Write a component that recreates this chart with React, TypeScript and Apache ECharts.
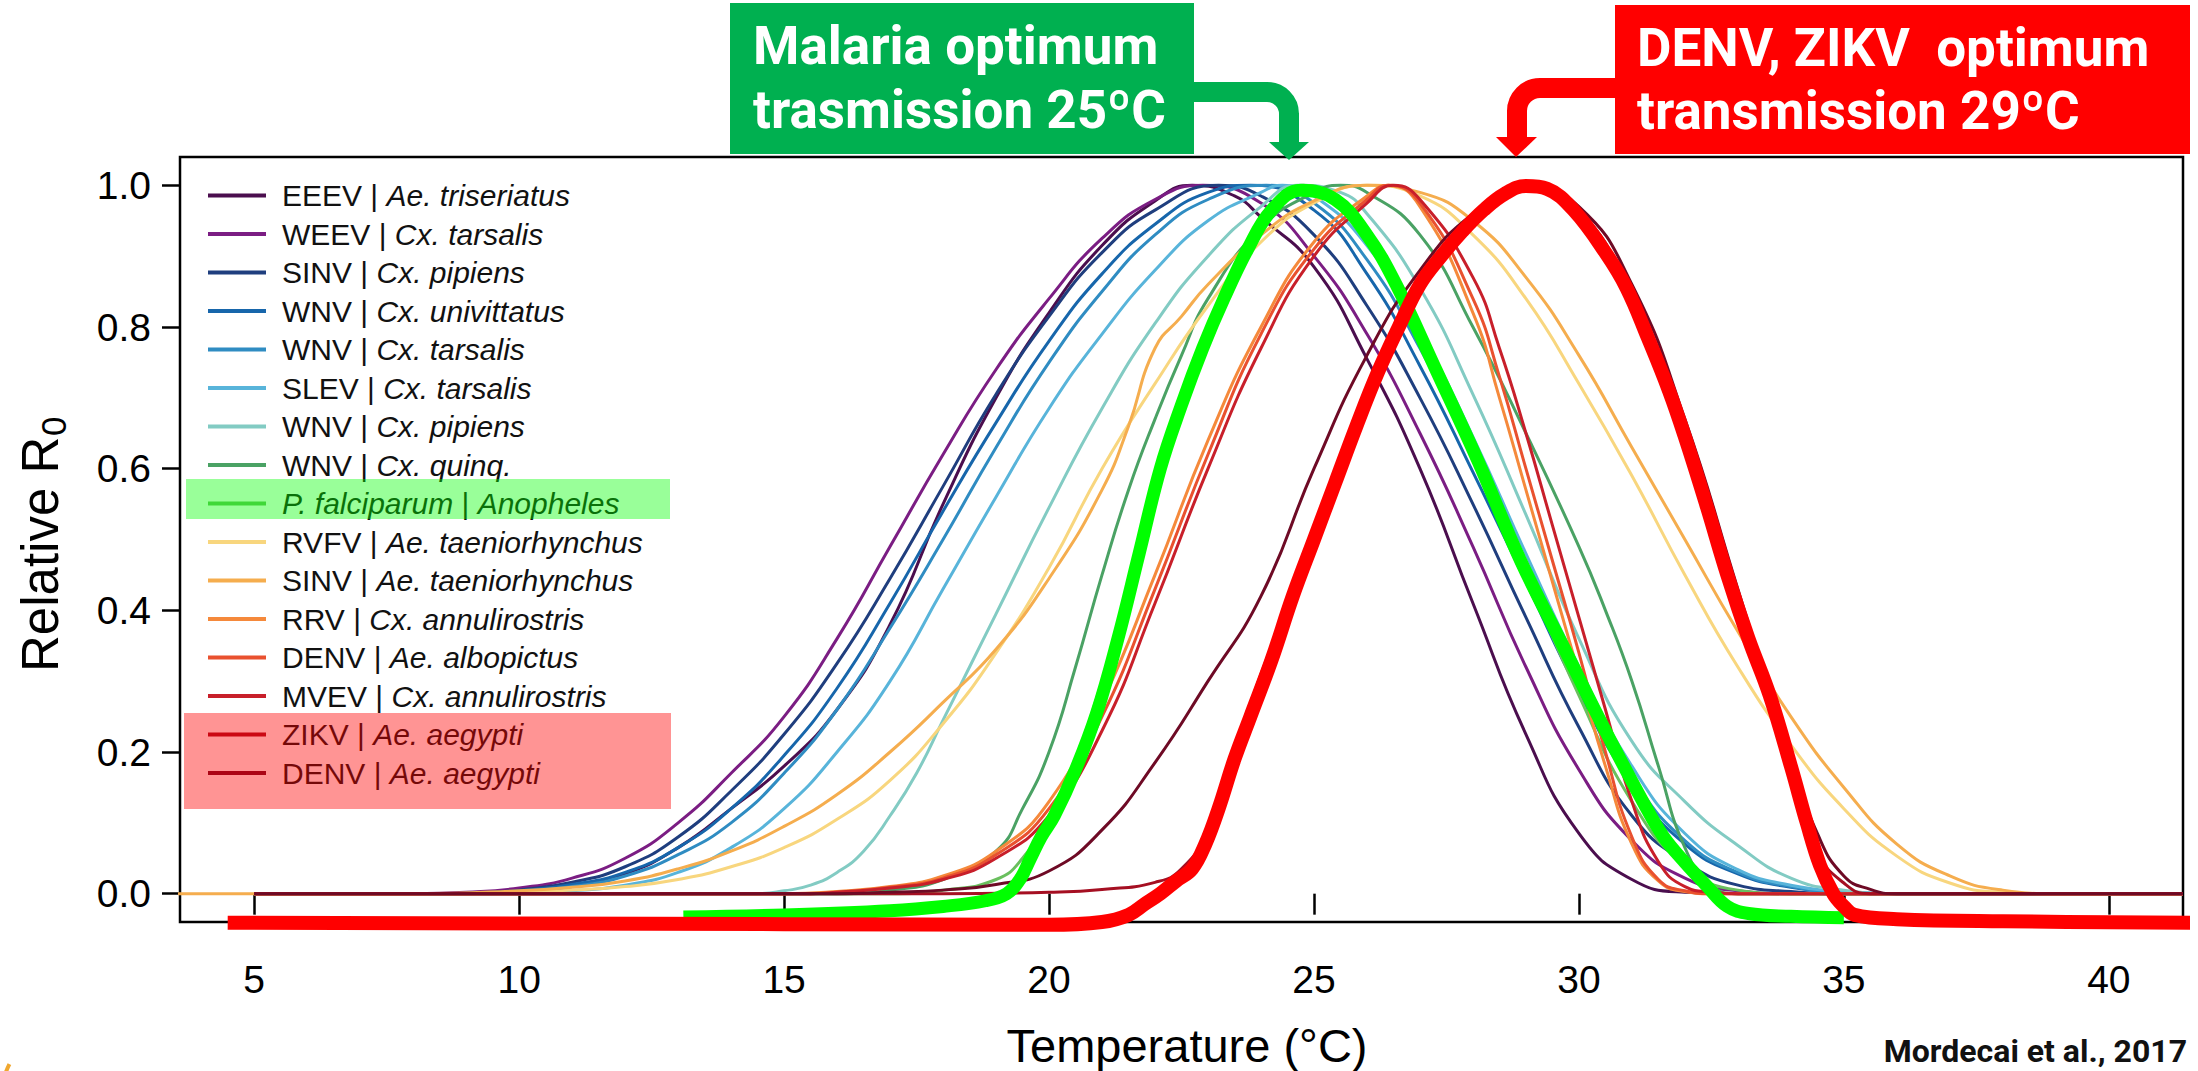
import React, { useEffect, useRef } from 'react';
import * as echarts from 'echarts';

// ---------- axes ----------
const X_RANGE = [3.6, 41.4];
const Y_RANGE = [-0.04, 1.04];
const X_TICKS = [5, 10, 15, 20, 25, 30, 35, 40];
const Y_TICKS = [0, 0.2, 0.4, 0.6, 0.8, 1.0];

// ---------- legend / series identity ----------
const VIRUS = ['EEEV', 'WEEV', 'SINV', 'WNV', 'WNV', 'SLEV', 'WNV', 'WNV', 'P. falciparum', 'RVFV', 'SINV', 'RRV', 'DENV', 'MVEV', 'ZIKV', 'DENV'];
const VECTOR = ['Ae. triseriatus', 'Cx. tarsalis', 'Cx. pipiens', 'Cx. univittatus', 'Cx. tarsalis', 'Cx. tarsalis', 'Cx. pipiens', 'Cx. quinq.', 'Anopheles', 'Ae. taeniorhynchus', 'Ae. taeniorhynchus', 'Cx. annulirostris', 'Ae. albopictus', 'Cx. annulirostris', 'Ae. aegypti', 'Ae. aegypti'];
const ITALIC_VIRUS = [false, false, false, false, false, false, false, false, true, false, false, false, false, false, false, false];
const COLORS = ['#4b0e4e', '#7b1d83', '#1f3e7e', '#1766ab', '#2f8cc2', '#58b4da', '#82cbc3', '#4aa264', '#6abf5e', '#f8d67e', '#f5ad4e', '#f5893b', '#e9512f', '#c81f2a', '#a50f22', '#6e0a25'];

// ---------- relative R0 curves: [temperature, relative R0] ----------
const EEEV_TRISERIATUS = [[5, 0], [9, 0], [10, 0.003], [11, 0.01], [12, 0.028], [13, 0.065], [14, 0.12], [15, 0.18], [16, 0.26], [17, 0.38], [18, 0.55], [19, 0.7], [20, 0.82], [21, 0.915], [22, 0.978], [22.7, 1], [23.5, 0.985], [24, 0.955], [25, 0.885], [26, 0.755], [27, 0.6], [28, 0.41], [29, 0.225], [30, 0.085], [31, 0.02], [32, 0.002], [33, 0], [41.4, 0]];
const WEEV_TARSALIS = [[5, 0], [8, 0], [9, 0.002], [10, 0.008], [11, 0.022], [12, 0.05], [13, 0.1], [14, 0.17], [15, 0.25], [16, 0.36], [17, 0.49], [18, 0.62], [19, 0.74], [20, 0.84], [21, 0.925], [22, 0.98], [22.9, 1], [24, 0.975], [25, 0.9], [26, 0.79], [27, 0.65], [28, 0.49], [29, 0.32], [30, 0.175], [31, 0.075], [32, 0.022], [33, 0.004], [34, 0], [41.4, 0]];
const SINV_PIPIENS = [[5, 0], [8.5, 0], [9.5, 0.002], [10, 0.005], [11, 0.016], [12, 0.038], [13, 0.08], [14, 0.145], [15, 0.225], [16, 0.325], [17, 0.445], [18, 0.575], [19, 0.705], [20, 0.815], [21, 0.905], [22, 0.965], [23.2, 1], [24, 0.985], [25, 0.93], [26, 0.83], [27, 0.7], [28, 0.55], [29, 0.39], [30, 0.235], [31, 0.11], [32, 0.045], [33, 0.012], [34, 0.003], [35, 0], [41.4, 0]];
const WNV_UNIVITTATUS = [[5, 0], [9, 0], [10, 0.004], [11, 0.013], [12, 0.03], [13, 0.065], [14, 0.12], [15, 0.195], [16, 0.29], [17, 0.41], [18, 0.54], [19, 0.665], [20, 0.78], [21, 0.875], [22, 0.945], [23, 0.99], [23.8, 1], [25, 0.965], [26, 0.875], [27, 0.745], [28, 0.595], [29, 0.44], [30, 0.285], [31, 0.155], [32, 0.07], [33, 0.028], [34, 0.009], [35, 0.002], [36, 0], [41.4, 0]];
const WNV_TARSALIS = [[5, 0], [9.5, 0], [10, 0.003], [11, 0.01], [12, 0.025], [13, 0.055], [14, 0.1], [15, 0.17], [16, 0.26], [17, 0.375], [18, 0.5], [19, 0.63], [20, 0.75], [21, 0.85], [22, 0.93], [23, 0.98], [24.1, 1], [25, 0.975], [26, 0.895], [27, 0.77], [28, 0.62], [29, 0.46], [30, 0.3], [31, 0.165], [32, 0.075], [33, 0.03], [34, 0.01], [35, 0.002], [36, 0], [41.4, 0]];
const SLEV_TARSALIS = [[5, 0], [10, 0], [11, 0.004], [12, 0.012], [13, 0.03], [14, 0.065], [15, 0.12], [16, 0.2], [17, 0.3], [18, 0.43], [19, 0.56], [20, 0.685], [21, 0.79], [22, 0.88], [23, 0.95], [24, 0.99], [24.4, 1], [25, 0.985], [26, 0.915], [27, 0.795], [28, 0.645], [29, 0.48], [30, 0.32], [31, 0.18], [32, 0.085], [33, 0.034], [34, 0.012], [35, 0.003], [36, 0], [41.4, 0]];
const WNV_PIPIENS = [[5, 0], [14.5, 0], [15, 0.004], [15.5, 0.012], [16, 0.03], [16.5, 0.06], [17, 0.11], [17.5, 0.17], [18, 0.245], [18.5, 0.32], [19, 0.395], [20, 0.545], [21, 0.685], [22, 0.805], [23, 0.9], [24, 0.97], [24.7, 1], [25.5, 0.99], [26, 0.96], [27, 0.855], [28, 0.705], [29, 0.535], [30, 0.36], [31, 0.215], [32, 0.13], [33, 0.068], [34, 0.022], [35, 0.005], [36, 0], [41.4, 0]];
const WNV_QUINQ = [[5, 0], [16, 0], [17, 0.005], [18, 0.02], [19, 0.06], [19.5, 0.12], [20, 0.2], [20.5, 0.32], [21, 0.45], [21.5, 0.57], [22, 0.67], [22.5, 0.76], [23, 0.84], [24, 0.94], [25, 0.99], [25.5, 1], [26, 0.99], [27, 0.93], [28, 0.8], [29, 0.65], [30, 0.49], [30.5, 0.4], [31, 0.3], [31.5, 0.18], [32, 0.065], [32.5, 0.012], [33, 0], [41.4, 0]];
const PFALC_ANOPHELES = [[5, 0], [17, 0], [18, 0.005], [19, 0.02], [19.5, 0.05], [20, 0.11], [20.5, 0.19], [21, 0.3], [21.5, 0.42], [22, 0.56], [22.5, 0.68], [23, 0.79], [23.5, 0.88], [24, 0.945], [24.8, 1], [25.5, 0.975], [26, 0.93], [27, 0.78], [28, 0.62], [29, 0.45], [30, 0.28], [31, 0.13], [32, 0.04], [33, 0.005], [34, 0], [41.4, 0]];
const RVFV_TAENIORHYNCHUS = [[5, 0], [9, 0], [10, 0.002], [11, 0.005], [12, 0.01], [13, 0.02], [14, 0.038], [15, 0.065], [16, 0.105], [17, 0.16], [18, 0.24], [19, 0.34], [20, 0.46], [21, 0.6], [22, 0.72], [23, 0.83], [24, 0.92], [25, 0.975], [26, 1], [27, 0.985], [28, 0.93], [29, 0.84], [30, 0.72], [31, 0.59], [32, 0.45], [33, 0.32], [34, 0.21], [35, 0.12], [36, 0.053], [37, 0.015], [38, 0.002], [39, 0], [41.4, 0]];
const SINV_TAENIORHYNCHUS = [[3, 0], [8, 0], [10, 0.004], [11, 0.009], [12, 0.018], [13, 0.035], [14, 0.06], [15, 0.095], [16, 0.14], [17, 0.2], [18, 0.27], [19, 0.345], [20, 0.445], [21, 0.57], [21.5, 0.66], [22, 0.77], [22.5, 0.815], [23, 0.86], [24, 0.93], [25, 0.978], [26, 1], [27, 0.99], [28, 0.95], [29, 0.87], [30, 0.76], [31, 0.63], [32, 0.5], [33, 0.37], [34, 0.25], [35, 0.15], [36, 0.07], [37, 0.025], [38, 0.005], [39, 0], [41.4, 0]];
const RRV_ANNULIROSTRIS = [[5, 0], [15, 0], [16, 0.003], [17, 0.01], [18, 0.025], [19, 0.06], [20, 0.13], [21, 0.27], [22, 0.45], [23, 0.64], [24, 0.8], [25, 0.92], [26, 0.985], [26.4, 1], [27, 0.97], [28, 0.82], [28.5, 0.7], [29, 0.57], [29.5, 0.44], [30, 0.31], [30.5, 0.18], [31, 0.07], [31.5, 0.018], [32, 0.003], [32.5, 0], [41.4, 0]];
const DENV_ALBOPICTUS = [[5, 0], [15.5, 0], [16, 0.002], [17, 0.009], [18, 0.022], [19, 0.055], [20, 0.12], [21, 0.25], [22, 0.43], [23, 0.62], [24, 0.79], [25, 0.91], [26, 0.98], [26.4, 1], [27, 0.975], [28, 0.84], [28.5, 0.73], [29, 0.6], [29.5, 0.47], [30, 0.34], [30.5, 0.2], [31, 0.08], [31.5, 0.02], [32, 0.004], [32.5, 0], [41.4, 0]];
const MVEV_ANNULIROSTRIS = [[5, 0], [15.5, 0], [16, 0.002], [17, 0.008], [18, 0.02], [19, 0.05], [20, 0.11], [21, 0.23], [22, 0.41], [23, 0.6], [24, 0.77], [25, 0.9], [26, 0.975], [26.5, 1], [27, 0.98], [28, 0.87], [28.5, 0.77], [29, 0.65], [29.5, 0.52], [30, 0.39], [30.5, 0.26], [31, 0.13], [31.5, 0.045], [32, 0.01], [32.5, 0.002], [33, 0], [41.4, 0]];
const ZIKV_AEGYPTI = [[5, 0], [18, 0], [20, 0.002], [21, 0.006], [22, 0.016], [22.5, 0.035], [23, 0.09], [23.5, 0.2], [24, 0.31], [25, 0.5], [26, 0.69], [27, 0.85], [28, 0.955], [29, 1], [30, 0.965], [31, 0.84], [32, 0.645], [33, 0.41], [34, 0.175], [34.5, 0.06], [35, 0.015], [35.5, 0], [41.4, 0]];
const DENV_AEGYPTI = [[5, 0], [16, 0], [17, 0.002], [18, 0.005], [19, 0.013], [20, 0.032], [21, 0.09], [22, 0.185], [23, 0.3], [24, 0.42], [25, 0.6], [26, 0.76], [27, 0.88], [28, 0.96], [29, 1], [30, 0.97], [31, 0.86], [32, 0.67], [33, 0.43], [34, 0.19], [34.5, 0.085], [35, 0.025], [35.5, 0.006], [36, 0], [41.4, 0]];

const CURVES = [EEEV_TRISERIATUS, WEEV_TARSALIS, SINV_PIPIENS, WNV_UNIVITTATUS, WNV_TARSALIS, SLEV_TARSALIS, WNV_PIPIENS, WNV_QUINQ, PFALC_ANOPHELES, RVFV_TAENIORHYNCHUS, SINV_TAENIORHYNCHUS, RRV_ANNULIROSTRIS, DENV_ALBOPICTUS, MVEV_ANNULIROSTRIS, ZIKV_AEGYPTI, DENV_AEGYPTI];

// ---------- hand-drawn highlight strokes (thick) ----------
const MALARIA_STROKE = [[13.1, -0.033], [15, -0.03], [17, -0.024], [18, -0.018], [18.8, -0.01], [19.2, 0], [19.45, 0.02], [19.65, 0.05], [19.85, 0.08], [20.1, 0.11], [20.5, 0.175], [20.9, 0.255], [21.3, 0.36], [21.7, 0.48], [22.1, 0.6], [22.5, 0.69], [22.9, 0.77], [23.3, 0.84], [23.75, 0.91], [24.2, 0.965], [24.75, 0.993], [25.4, 0.98], [26, 0.93], [26.55, 0.86], [27.3, 0.74], [28.1, 0.61], [28.9, 0.47], [29.7, 0.35], [30.5, 0.23], [31.25, 0.124], [31.6, 0.08], [32, 0.044], [32.4, 0.012], [32.8, -0.018], [33.2, -0.028], [34, -0.032], [35, -0.034]];
const DENV_ZIKV_STROKE = [[4.5, -0.041], [10, -0.042], [15, -0.043], [20, -0.044], [21, -0.04], [21.5, -0.03], [21.8, -0.015], [22.1, 0], [22.4, 0.018], [22.7, 0.035], [22.95, 0.07], [23.2, 0.12], [23.5, 0.19], [23.8, 0.25], [24.2, 0.33], [24.6, 0.42], [25, 0.5], [25.4, 0.58], [25.8, 0.66], [26.2, 0.735], [26.6, 0.8], [27, 0.86], [27.4, 0.9], [27.8, 0.935], [28.2, 0.965], [28.6, 0.988], [29, 0.999], [29.4, 0.995], [29.9, 0.965], [30.5, 0.905], [30.9, 0.855], [31.3, 0.785], [31.7, 0.71], [32, 0.645], [32.4, 0.55], [32.8, 0.45], [33.2, 0.36], [33.6, 0.28], [34, 0.18], [34.3, 0.1], [34.55, 0.04], [34.8, 0], [35, -0.018], [35.2, -0.03], [36, -0.036], [38, -0.039], [41.7, -0.041]];

const SANS = "'Liberation Sans', Arial, Helvetica, sans-serif";
const BOLD = "Roboto, 'Liberation Sans', Arial, sans-serif";

export default function App() {
  const ref = useRef<HTMLDivElement>(null);

  useEffect(() => {
    document.body.style.margin = '0';
    const chart = echarts.init(ref.current as HTMLDivElement, null, { renderer: 'svg' });
    const names = VIRUS.map((v, i) => `${v} | ${VECTOR[i]}`);

    const series: any[] = CURVES.map((data, i) => ({
      type: 'line',
      name: names[i],
      data,
      showSymbol: false,
      symbol: 'none',
      smooth: 0.5,
      silent: true,
      z: 2,
      lineStyle: { color: COLORS[i], width: 3 },
      itemStyle: { color: COLORS[i] },
      emphasis: { disabled: true },
    }));
    series.push({
      type: 'line', name: 'malaria-stroke', data: MALARIA_STROKE, showSymbol: false, symbol: 'none',
      smooth: 0.4, clip: false, silent: true, z: 3,
      lineStyle: { color: '#00ff00', width: 13, join: 'round', cap: 'butt' }, emphasis: { disabled: true },
    });
    series.push({
      type: 'line', name: 'denv-zikv-stroke', data: DENV_ZIKV_STROKE, showSymbol: false, symbol: 'none',
      smooth: 0.4, clip: false, silent: true, z: 4,
      lineStyle: { color: '#ff0000', width: 14, join: 'round', cap: 'butt' }, emphasis: { disabled: true },
    });

    const legendRich = {
      n: { fontFamily: SANS, fontSize: 30, lineHeight: 34, color: '#111' },
      i: { fontFamily: SANS, fontSize: 30, lineHeight: 34, color: '#111', fontStyle: 'italic' },
    };

    const option: any = {
      animation: false,
      backgroundColor: '#ffffff',
      grid: { left: 180, right: 15, top: 157, bottom: 149, show: true, borderColor: '#000', borderWidth: 2.5, backgroundColor: 'transparent' },
      xAxis: {
        type: 'value', min: X_RANGE[0], max: X_RANGE[1],
        axisLine: { show: false }, splitLine: { show: false },
        axisTick: { show: true, length: 21, customValues: X_TICKS, lineStyle: { color: '#000', width: 2.5 } },
        axisLabel: { customValues: X_TICKS, margin: 38, fontSize: 39, fontFamily: SANS, color: '#000' },
      },
      yAxis: {
        type: 'value', min: Y_RANGE[0], max: Y_RANGE[1],
        axisLine: { show: false }, splitLine: { show: false },
        axisTick: { show: true, length: 18, customValues: Y_TICKS, lineStyle: { color: '#000', width: 2.5 } },
        axisLabel: { customValues: Y_TICKS, margin: 29, fontSize: 39, fontFamily: SANS, color: '#000', formatter: (v: number) => v.toFixed(1) },
      },
      legend: {
        orient: 'vertical', left: 208, top: 178.5, padding: 0,
        itemWidth: 58, itemHeight: 4, itemGap: 4.5, icon: 'rect',
        selectedMode: false,
        data: names,
        formatter: (name: string) => {
          const i = names.indexOf(name);
          if (ITALIC_VIRUS[i]) return `{i|${VIRUS[i]}}{n| | }{i|${VECTOR[i]}}`;
          return `{n|${VIRUS[i]} | }{i|${VECTOR[i]}}`;
        },
        textStyle: { fontFamily: SANS, fontSize: 30, lineHeight: 34, color: '#111', padding: [0, 0, 0, 11], rich: legendRich },
      },
      series,
      graphic: [
        // legend highlight overlays
        { type: 'rect', z: 100, shape: { x: 186, y: 479, width: 484, height: 40 }, style: { fill: 'rgba(0,255,0,0.4)' } },
        { type: 'rect', z: 100, shape: { x: 184, y: 713, width: 487, height: 96 }, style: { fill: 'rgba(255,0,0,0.42)' } },
        // axis titles
        { type: 'text', z: 100, x: 1187, y: 1045, style: { text: 'Temperature (°C)', fontFamily: SANS, fontSize: 47, fill: '#000', align: 'center', verticalAlign: 'middle' } },
        {
          type: 'group', z: 100, x: 40, y: 540, rotation: Math.PI / 2,
          children: [
            { type: 'text', x: -132, y: 0, style: { text: 'Relative R', fontFamily: SANS, fontSize: 51, fill: '#000', align: 'left', verticalAlign: 'middle' } },
            { type: 'text', x: 104, y: 13, style: { text: '0', fontFamily: SANS, fontSize: 35, fill: '#000', align: 'left', verticalAlign: 'middle' } },
          ],
        },
        // malaria annotation
        { type: 'rect', z: 100, shape: { x: 730, y: 3, width: 464, height: 151 }, style: { fill: '#00b050' } },
        { type: 'text', z: 101, x: 753, y: 46, style: { text: 'Malaria optimum', fontFamily: BOLD, fontWeight: 'bold', fontSize: 53, fill: '#fff', align: 'left', verticalAlign: 'middle' } },
        { type: 'text', z: 101, x: 753, y: 110, style: { text: 'trasmission 25ºC', fontFamily: BOLD, fontWeight: 'bold', fontSize: 53, fill: '#fff', align: 'left', verticalAlign: 'middle' } },
        { type: 'line', z: 100, shape: { x1: 1188, y1: 92, x2: 1268, y2: 92 }, style: { stroke: '#00b050', lineWidth: 20 } },
        { type: 'arc', z: 100, shape: { cx: 1267, cy: 114, r: 22, startAngle: -Math.PI / 2, endAngle: 0, clockwise: true }, style: { stroke: '#00b050', lineWidth: 20, fill: 'none' } },
        { type: 'line', z: 100, shape: { x1: 1289, y1: 113, x2: 1289, y2: 144 }, style: { stroke: '#00b050', lineWidth: 20 } },
        { type: 'polygon', z: 100, shape: { points: [[1269, 142], [1309, 142], [1289, 160]] }, style: { fill: '#00b050' } },
        // dengue / zika annotation
        { type: 'rect', z: 100, shape: { x: 1615, y: 5, width: 575, height: 149 }, style: { fill: '#ff0000' } },
        { type: 'text', z: 101, x: 1637, y: 48, style: { text: 'DENV, ZIKV  optimum', fontFamily: BOLD, fontWeight: 'bold', fontSize: 53, fill: '#fff', align: 'left', verticalAlign: 'middle' } },
        { type: 'text', z: 101, x: 1637, y: 111, style: { text: 'transmission 29ºC', fontFamily: BOLD, fontWeight: 'bold', fontSize: 53, fill: '#fff', align: 'left', verticalAlign: 'middle' } },
        { type: 'line', z: 100, shape: { x1: 1539, y1: 88, x2: 1620, y2: 88 }, style: { stroke: '#ff0000', lineWidth: 20 } },
        { type: 'arc', z: 100, shape: { cx: 1540, cy: 111, r: 23, startAngle: Math.PI, endAngle: Math.PI * 1.5, clockwise: true }, style: { stroke: '#ff0000', lineWidth: 20, fill: 'none' } },
        { type: 'line', z: 100, shape: { x1: 1517, y1: 110, x2: 1517, y2: 140 }, style: { stroke: '#ff0000', lineWidth: 20 } },
        { type: 'polygon', z: 100, shape: { points: [[1496, 137], [1537, 137], [1516, 157]] }, style: { fill: '#ff0000' } },
        // source
        { type: 'text', z: 100, x: 2187, y: 1051, style: { text: 'Mordecai et al., 2017', fontFamily: BOLD, fontWeight: 'bold', fontSize: 32, fill: '#111', align: 'right', verticalAlign: 'middle' } },
        // corner fragment
        { type: 'arc', z: 100, shape: { cx: 70, cy: 1095, r: 68, startAngle: Math.PI * 1.0, endAngle: Math.PI * 1.15, clockwise: true }, style: { stroke: '#f0a830', lineWidth: 4, fill: 'none' } },
      ],
    };

    chart.setOption(option);
    return () => chart.dispose();
  }, []);

  return <div ref={ref} style={{ position: 'absolute', left: 0, top: 0, width: 2198, height: 1071, background: '#fff' }} />;
}
